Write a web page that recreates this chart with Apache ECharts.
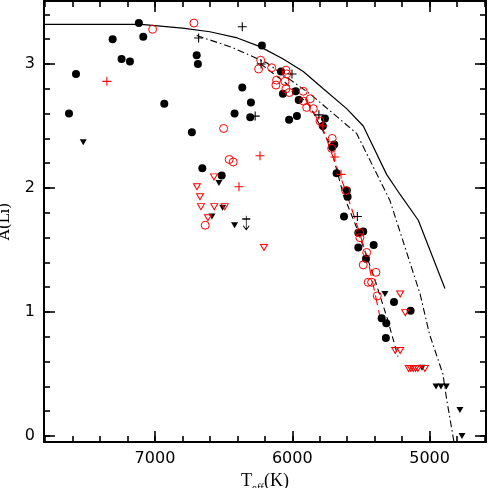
<!DOCTYPE html>
<html><head><meta charset="utf-8">
<script src="https://cdn.jsdelivr.net/npm/echarts@6/dist/echarts.min.js"></script>
<style>html,body{margin:0;padding:0;background:#fff}#c{width:488px;height:488px}</style>
</head><body><div id="c"></div>
<script>
// ---- axis ticks / labels ----
const xMinorTicks = [4600,4800,5000,5200,5400,5600,5800,6000,6200,6400,6600,6800,7000,7200,7400,7600,7800];
const xMajorTicks = [5000,6000,7000];
const xLabels = [5000,6000,7000];
const yMinorTicks = [0,0.2,0.4,0.6,0.8,1,1.2,1.4,1.6,1.8,2,2.2,2.4,2.6,2.8,3,3.2,3.4];
const yMajorTicks = [0,1,2,3];
const yLabels = [0,1,2,3];

// ---- data: black filled circles ----
const blackDotT = [7626,7575,7308,7243,7182,7117,7085,6932,6731,6696,6687,6655,6514,6420,6364,6301,6306,6221,6082,6068,5975,5953,6023,5966,5762,5777,5694,5709,5677,5602,5597,5623,5483,5519,5519,5407,5463,5349,5315,5318,5259,5138];
const blackDotA = [2.60,2.92,3.20,3.04,3.02,3.33,3.22,2.68,2.45,3.07,3.00,2.16,2.10,2.60,2.81,2.69,2.57,3.15,2.94,2.76,2.78,2.71,2.55,2.58,2.56,2.50,2.35,2.33,2.12,1.98,1.93,1.77,1.65,1.64,1.52,1.54,1.43,0.95,0.91,0.79,1.08,1.01];
// black upper limits (filled down triangles)
const blackLimT = [7522,6534,6585,6507,6420,5325,5055,4953,4917,4878,4779,4764];
const blackLimA = [2.37,2.04,1.77,1.84,1.70,1.145,0.55,0.40,0.40,0.40,0.21,0.00];
// red open circles
const redDotT = [7017,6716,6500,6459,6430,6634,6230,6245,6150,6114,6119,6053,6046,6041,6022,6046,5920,5917,5869,5895,5847,5798,5709,5713,5611,5510,5507,5458,5483,5391,5447,5422,5381];
const redDotA = [3.28,3.33,2.48,2.23,2.21,1.70,3.03,2.96,2.97,2.87,2.83,2.86,2.95,2.92,2.77,2.80,2.78,2.70,2.72,2.65,2.64,2.54,2.40,2.32,1.98,1.64,1.60,1.48,1.38,1.32,1.24,1.24,1.13];
// red upper limits (open down triangles)
const redLimT = [6694,6672,6665,6570,6568,6492,6614,6206,5214,5177,5250,5214,5152,5136,5119,5102,5085,5034];
const redLimA = [2.01,1.93,1.85,2.09,1.85,1.85,1.76,1.52,1.145,0.995,0.69,0.69,0.545,0.545,0.545,0.545,0.545,0.545];
// black plus
const blackPlusT = [6364,6682,6227,6002,6270,5806,5526];
const blackPlusA = [3.30,3.21,3.00,2.92,2.58,2.59,1.77];
// red plus
const redPlusT = [7350,6388,6235,5777,5689,5645];
const redPlusA = [2.86,2.01,2.26,2.50,2.25,2.11];
// black plus upper limit
const plusLimT = [6335];
const plusLimA = [1.75];

// ---- model curves ----
const solidT = [7808,7100,6800,6600,6400,6235,6066,5920,5774,5604,5483,5313,5216,5082,4888];
const solidA = [3.32,3.32,3.29,3.26,3.21,3.14,3.04,2.94,2.80,2.64,2.50,2.11,1.95,1.74,1.19];
const dashDotT = [6696,6430,6187,5872,5701,5531,5289,5070,5000,4903,4876,4822];
const dashDotA = [3.23,3.13,3.01,2.76,2.60,2.44,1.90,1.15,0.82,0.50,0.30,-0.05];
const dashT = [6228,6017,5871,5725,5629,5531,5398,5303,5230];
const dashA = [3.00,2.82,2.66,2.35,1.95,1.68,1.26,0.93,0.64];
const redDashT = [5907,5784,5703,5602,5522,5449,5361];
const redDashA = [2.72,2.50,2.25,1.95,1.68,1.42,0.96];

const zip = (a,b) => a.map((v,i)=>[v,b[i]]);

const X_MIN = 4589, X_MAX = 7808, Y_MIN = -0.048, Y_MAX = 3.508;
const AX = '#000';
const LABEL = {show:true, margin:9, color:'#000', fontFamily:'DejaVu Sans', fontSize:16, formatter:v=>String(v)};
function xAx(pos, ticks, len, showLine, labels, name){
  const o = {type:'value', position:pos, min:X_MIN, max:X_MAX, inverse:true, splitLine:{show:false},
    axisLine:{show:showLine, onZero:false, lineStyle:{color:AX, width:2}},
    axisTick:{show:true, inside:true, length:len, customValues:ticks, lineStyle:{color:AX, width:1.6}},
    axisLabel:{show:false}};
  if (labels) o.axisLabel = Object.assign({customValues:labels}, LABEL);
  if (name){ Object.assign(o, name); }
  return o;
}
function yAx(pos, ticks, len, showLine, labels, name){
  const o = {type:'value', position:pos, min:Y_MIN, max:Y_MAX, splitLine:{show:false},
    axisLine:{show:showLine, onZero:false, lineStyle:{color:AX, width:2}},
    axisTick:{show:true, inside:true, length:len, customValues:ticks, lineStyle:{color:AX, width:1.6}},
    axisLabel:{show:false}};
  if (labels) o.axisLabel = Object.assign({customValues:labels}, LABEL);
  if (name){ Object.assign(o, name); }
  return o;
}

const plusPath = 'path://M4.4,0H5.6V4.4H10V5.6H5.6V10H4.4V5.6H0V4.4H4.4Z';
const triPath = 'path://M0,0L10,0L5,9Z';
const arrowPath = 'path://M5,0L5,14M1,3.3L9,3.3M2,10L5,14L8,10';

const lineSeries = (data, color, type, w) => ({type:'line', data, symbol:'none', silent:true, z:1,
  lineStyle:{color, width:w, type, opacity:1}});

const chart = echarts.init(document.getElementById('c'), null, {renderer:'canvas'});
chart.setOption({
  animation:false,
  backgroundColor:'#fff',
  grid:{left:44, right:2, top:1, bottom:46, containLabel:false, outerBoundsMode:'none'},
  xAxis:[
    xAx('bottom', xMinorTicks, 6, true, xLabels, {
      name:'{t|T}{s|eff}{t|(K)}', nameLocation:'middle', nameGap:26,
      nameTextStyle:{rich:{
        t:{fontFamily:'Liberation Serif', fontSize:18, color:'#000', verticalAlign:'bottom', padding:[0,0,4,0]},
        s:{fontFamily:'Liberation Serif', fontSize:11, color:'#000', verticalAlign:'bottom'}}}}),
    xAx('bottom', xMajorTicks, 11, false, null),
    xAx('top', xMinorTicks, 6, true, null),
    xAx('top', xMajorTicks, 11, false, null)
  ],
  yAxis:[
    yAx('left', yMinorTicks, 6, true, yLabels, {name:'A(Li)', nameLocation:'middle', nameGap:31,
      nameTextStyle:{fontFamily:'DejaVu Serif', fontSize:15, color:'#000'}}),
    yAx('left', yMajorTicks, 11, false, null),
    yAx('right', yMinorTicks, 6, true, null),
    yAx('right', yMajorTicks, 11, false, null)
  ],
  series:[
    lineSeries(zip(solidT, solidA), '#000', 'solid', 1.2),
    lineSeries(zip(dashDotT, dashDotA), '#000', [7,3,1.5,3], 1.1),
    lineSeries(zip(dashT, dashA), '#000', [6,4], 1.1),
    lineSeries(zip(redDashT, redDashA), '#ff0000', [10,5], 1.1),
    {type:'scatter', data:zip(blackDotT, blackDotA), symbol:'circle', symbolSize:8, itemStyle:{color:'#000', opacity:1}, z:3},
    {type:'scatter', data:zip(blackLimT, blackLimA), symbol:triPath, symbolSize:[7,6], itemStyle:{color:'#000', opacity:1}, z:3},
    {type:'scatter', data:zip(redDotT, redDotA), symbol:'circle', symbolSize:8, itemStyle:{color:'rgba(0,0,0,0)', borderColor:'#ff0000', borderWidth:1, opacity:1}, z:4},
    {type:'scatter', data:zip(redLimT, redLimA), symbol:triPath, symbolSize:[7,6], itemStyle:{color:'rgba(0,0,0,0)', borderColor:'#ff0000', borderWidth:1, opacity:1}, z:4},
    {type:'scatter', data:zip(blackPlusT, blackPlusA), symbol:plusPath, symbolSize:9, itemStyle:{color:'#000', opacity:1}, z:4},
    {type:'scatter', data:zip(redPlusT, redPlusA), symbol:plusPath, symbolSize:9, itemStyle:{color:'#ff0000', opacity:1}, z:5},
    {type:'scatter', data:zip(plusLimT, plusLimA), symbol:arrowPath, symbolSize:[8,14], symbolOffset:[0,3.7], symbolKeepAspect:false, itemStyle:{color:'rgba(0,0,0,0)', borderColor:'#000', borderWidth:1, opacity:1}, z:4}
  ]
});
</script></body></html>
